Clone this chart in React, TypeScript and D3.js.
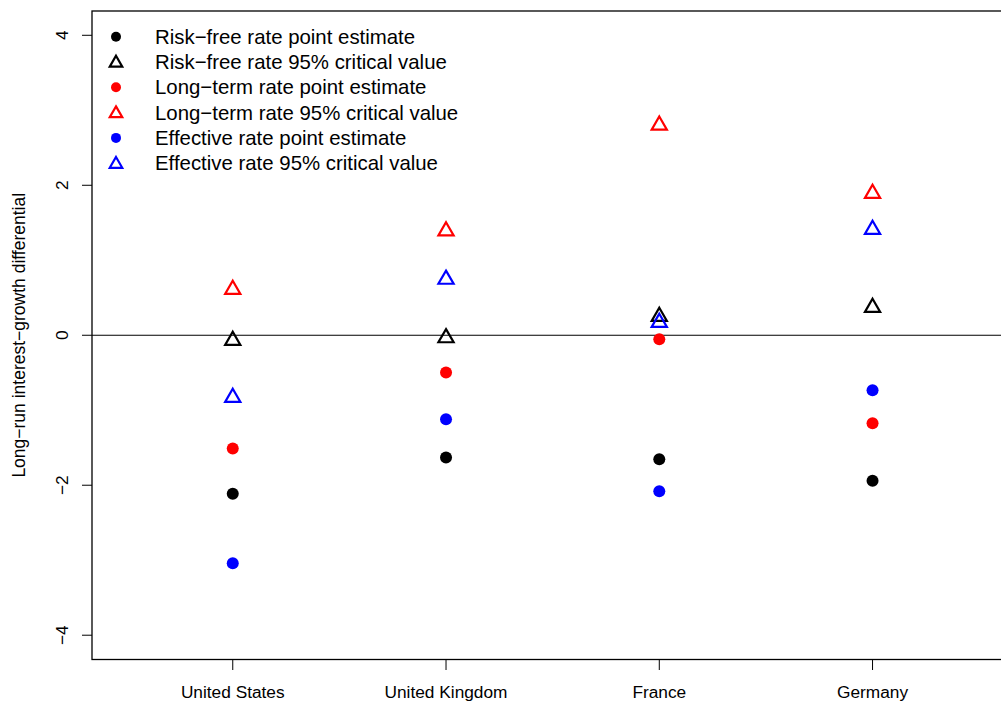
import React from "react";
import * as d3 from "d3";

const countries = ["United States", "United Kingdom", "France", "Germany"];
const rfPoint = [-2.115, -1.63, -1.653, -1.94];
const rfCrit = [-0.07, -0.035, 0.25, 0.37];
const ltPoint = [-1.51, -0.497, -0.053, -1.173];
const ltCrit = [0.61, 1.39, 2.8, 1.89];
const efPoint = [-3.04, -1.12, -2.08, -0.733];
const efCrit = [-0.83, 0.745, 0.17, 1.41];
const yTicks = [-4, -2, 0, 2, 4];
const legendLabels = [
  "Risk\u2212free rate point estimate",
  "Risk\u2212free rate 95% critical value",
  "Long\u2212term rate point estimate",
  "Long\u2212term rate 95% critical value",
  "Effective rate point estimate",
  "Effective rate 95% critical value",
];
const yLabel = "Long\u2212run interest\u2212growth differential";

const W = 1001;
const H = 704;
const left = 92;
const right = 1013.3;
const top = 11;
const bottom = 659.5;
const font = "'Liberation Sans', Arial, Helvetica, sans-serif";

const series = [
  { values: rfPoint, color: "#000000", shape: "dot" },
  { values: rfCrit, color: "#000000", shape: "tri" },
  { values: ltPoint, color: "#FF0000", shape: "dot" },
  { values: ltCrit, color: "#FF0000", shape: "tri" },
  { values: efPoint, color: "#0000FF", shape: "dot" },
  { values: efCrit, color: "#0000FF", shape: "tri" },
];

function triSize(side: number) {
  const y = side / (2 * Math.sqrt(3));
  return y * y * 3 * Math.sqrt(3);
}

export default function App() {
  const x = d3.scaleLinear().domain([0.34, 4.66]).range([left, right]);
  const y = d3.scaleLinear().domain([-4.324, 4.324]).range([bottom, top]);
  const triPath = d3.symbol().type(d3.symbolTriangle).size(triSize(15.2))() as string;
  const triLegend = d3.symbol().type(d3.symbolTriangle).size(triSize(12.5))() as string;
  const fmt = (v: number) => (v < 0 ? "\u2212" + Math.abs(v) : String(v));

  const legendRows = [36.7, 62, 87.3, 112.6, 137.9, 163.2];

  return (
    <svg
      width={W}
      height={H}
      style={{ position: "absolute", left: 0, top: 0, background: "#fff" }}
      fontFamily={font}
    >
      <rect x={0} y={0} width={W} height={H} fill="#fff" />
      {/* zero line */}
      <line x1={left} x2={right} y1={y(0)} y2={y(0)} stroke="#000" strokeWidth={1.1} />
      {/* box */}
      <rect x={left} y={top} width={right - left} height={bottom - top} fill="none" stroke="#000" strokeWidth={1.3} />
      {/* y ticks */}
      {yTicks.map((t) => (
        <g key={t}>
          <line x1={left - 10} x2={left} y1={y(t)} y2={y(t)} stroke="#000" strokeWidth={1} />
          <text
            transform={`translate(68,${y(t)}) rotate(-90)`}
            textAnchor="middle"
            fontSize={17.3}
            fill="#000"
          >
            {fmt(t)}
          </text>
        </g>
      ))}
      {/* x ticks */}
      {countries.map((c, i) => (
        <g key={c}>
          <line x1={x(i + 1)} x2={x(i + 1)} y1={bottom} y2={bottom + 10.5} stroke="#000" strokeWidth={1} />
          <text x={x(i + 1)} y={698} textAnchor="middle" fontSize={17.3} fill="#000">
            {c}
          </text>
        </g>
      ))}
      {/* y label */}
      <text
        transform={`translate(25,${(top + bottom) / 2}) rotate(-90)`}
        textAnchor="middle"
        fontSize={17.5}
        fill="#000"
      >
        {yLabel}
      </text>
      {/* points */}
      {series.map((s, si) =>
        s.values.map((v, i) =>
          s.shape === "dot" ? (
            <circle key={`${si}-${i}`} cx={x(i + 1)} cy={y(v)} r={6} fill={s.color} />
          ) : (
            <path
              key={`${si}-${i}`}
              d={triPath}
              transform={`translate(${x(i + 1)},${y(v)})`}
              fill="none"
              stroke={s.color}
              strokeWidth={2.2}
            />
          )
        )
      )}
      {/* legend */}
      {series.map((s, i) => (
        <g key={`leg-${i}`}>
          {s.shape === "dot" ? (
            <circle cx={116} cy={legendRows[i]} r={5} fill={s.color} />
          ) : (
            <path
              d={triLegend}
              transform={`translate(116,${legendRows[i] + 1})`}
              fill="none"
              stroke={s.color}
              strokeWidth={2.2}
            />
          )}
          <text x={155} y={legendRows[i]} dy="0.35em" fontSize={20.4} fill="#000">
            {legendLabels[i]}
          </text>
        </g>
      ))}
    </svg>
  );
}
